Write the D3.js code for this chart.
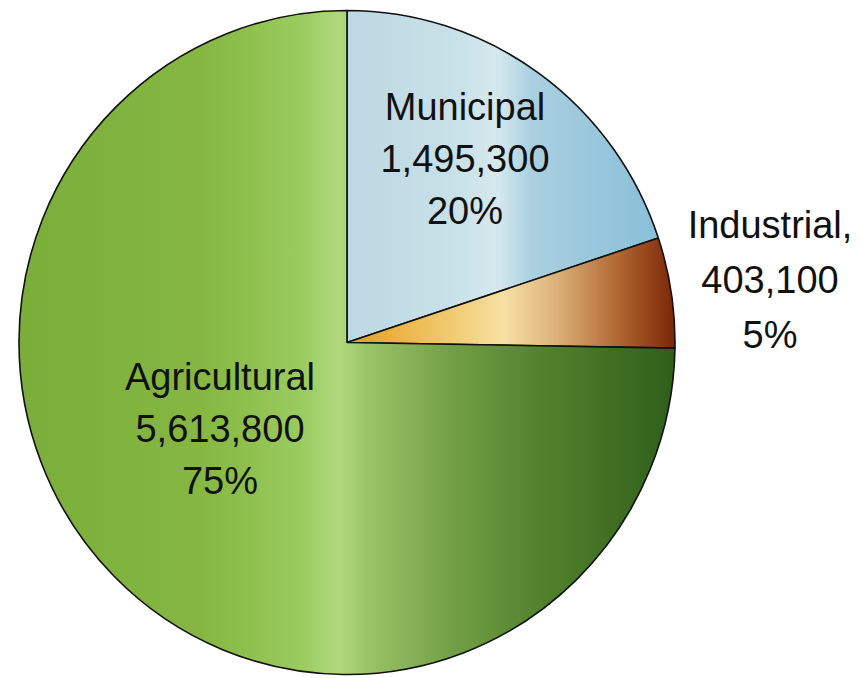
<!DOCTYPE html>
<html>
<head>
<meta charset="utf-8">
<script src="https://cdn.jsdelivr.net/npm/d3@7"></script>
<style>
  html, body { margin: 0; padding: 0; background: #fff; }
  svg { display: block; }
</style>
</head>
<body>
<svg id="chart" width="863" height="678"></svg>
<script>
// Water use by sector
const categories = ["Municipal", "Industrial", "Agricultural"];
const values = [1495300, 403100, 5613800];
const valueLabels = ["1,495,300", "403,100", "5,613,800"];
const percentLabels = ["20%", "5%", "75%"];
const nameLabels = ["Municipal", "Industrial,", "Agricultural"];

// Horizontal shading for each wedge: [x position across the pie (0..1), colour]
const gradientStops = [
  [[0.50, "#bcd8e2"], [0.66, "#c8e0e8"], [0.73, "#d6e8ec"], [0.78, "#aad0e0"], [0.88, "#98c6dc"], [0.98, "#88bfd8"]],
  [[0.50, "#e89c1c"], [0.63, "#efc260"], [0.74, "#f5e0a2"], [0.82, "#dcb078"], [0.91, "#b36a34"], [1.00, "#7a2606"]],
  [[0.00, "#7aad39"], [0.28, "#85b742"], [0.43, "#9acb5e"], [0.486, "#b0d87c"], [0.505, "#a9d276"], [0.527, "#9cc468"], [0.657, "#73a046"], [0.81, "#507f2c"], [1.00, "#2f5e1a"]]
];

// Label anchor positions (centre x, first baseline y) and line spacing
const labelPos = [[465, 120, 52], [770, 238, 55], [220, 390, 52]];

const svg = d3.select("#chart");
const cx = 347, cy = 342.5, rx = 328, ry = 332;

const defs = svg.append("defs");
gradientStops.forEach((stops, i) => {
  const g = defs.append("linearGradient")
    .attr("id", "grad" + i)
    .attr("gradientUnits", "userSpaceOnUse")
    .attr("x1", -rx).attr("x2", rx).attr("y1", 0).attr("y2", 0);
  stops.forEach(([o, c]) => g.append("stop").attr("offset", o).attr("stop-color", c));
});

const pie = d3.pie().sort(null).value(d => d)(values);
const arc = d3.arc().innerRadius(0).outerRadius(rx);

const g = svg.append("g")
  .attr("transform", `translate(${cx},${cy}) scale(1,${ry / rx})`);

g.selectAll("path")
  .data(pie)
  .join("path")
  .attr("d", arc)
  .attr("fill", (d, i) => `url(#grad${i})`)
  .attr("stroke", "#111")
  .attr("stroke-width", 1.6)
  .attr("vector-effect", "non-scaling-stroke")
  .attr("stroke-linejoin", "round");

categories.forEach((c, i) => {
  const [x, y, dy] = labelPos[i];
  const t = svg.append("text")
    .attr("text-anchor", "middle")
    .attr("font-family", "'Liberation Sans', Arial, sans-serif")
    .attr("font-size", 38)
    .attr("fill", "#111");
  [nameLabels[i], valueLabels[i], percentLabels[i]].forEach((s, k) => {
    t.append("tspan").attr("x", x).attr("y", y + k * dy).text(s);
  });
});
</script>
</body>
</html>
